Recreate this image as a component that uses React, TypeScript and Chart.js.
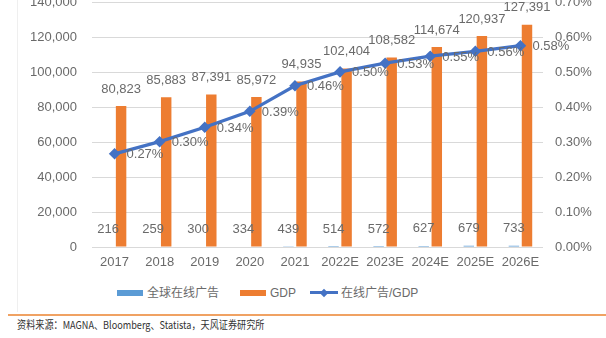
import React, { useEffect, useRef } from "react";
import { Chart, registerables } from "chart.js";

Chart.register(...registerables);

const categories = ["2017", "2018", "2019", "2020", "2021", "2022E", "2023E", "2024E", "2025E", "2026E"];
const onlineAds = [216, 259, 300, 334, 439, 514, 572, 627, 679, 733];
const gdp = [80823, 85883, 87391, 85972, 94935, 102404, 108582, 114674, 120937, 127391];
const ratio = [0.00267, 0.00302, 0.00343, 0.00389, 0.00462, 0.00502, 0.00527, 0.00547, 0.00561, 0.00577];
const ratioLabels = ["0.27%", "0.30%", "0.34%", "0.39%", "0.46%", "0.50%", "0.53%", "0.55%", "0.56%", "0.58%"];
const seriesNames = ["全球在线广告", "GDP", "在线广告/GDP"];
const sourceText = "资料来源：MAGNA、Bloomberg、Statista，天风证券研究所";

const BLUE = "#5B9BD5";
const ORANGE = "#ED7D31";
const LINE = "#4472C4";
const TEXT = "#6A6A6A";
const FONT = '"Liberation Sans", Arial, sans-serif';

const labelPlugin = {
  id: "valueLabels",
  afterDatasetsDraw(chart: any) {
    const ctx = chart.ctx;
    ctx.save();
    ctx.font = `13px ${FONT}`;
    ctx.fillStyle = TEXT;
    ctx.textAlign = "center";
    ctx.textBaseline = "middle";
    [0, 1].forEach((di) => {
      const meta = chart.getDatasetMeta(di);
      meta.data.forEach((el: any, i: number) => {
        const v = chart.data.datasets[di].data[i] as number;
        ctx.fillText(v.toLocaleString("en-US"), el.x, el.y - 17);
      });
    });
    const lm = chart.getDatasetMeta(2);
    ctx.textAlign = "left";
    lm.data.forEach((el: any, i: number) => {
      ctx.fillText(ratioLabels[i], el.x + 12, el.y + 1);
    });
    ctx.restore();
  },
};

export default function App() {
  const ref = useRef<HTMLCanvasElement | null>(null);

  useEffect(() => {
    if (!ref.current) return;
    const chart = new Chart(ref.current, {
      type: "bar",
      data: {
        labels: categories,
        datasets: [
          {
            type: "bar",
            label: seriesNames[0],
            data: onlineAds,
            backgroundColor: BLUE,
            yAxisID: "y",
            order: 1,
            categoryPercentage: 0.58,
            barPercentage: 0.8,
          },
          {
            type: "bar",
            label: seriesNames[1],
            data: gdp,
            backgroundColor: ORANGE,
            yAxisID: "y",
            order: 1,
            categoryPercentage: 0.58,
            barPercentage: 0.8,
          },
          {
            type: "line",
            label: seriesNames[2],
            data: ratio,
            borderColor: LINE,
            backgroundColor: LINE,
            borderWidth: 3.2,
            pointStyle: "rectRot",
            pointRadius: 3.5,
            pointBackgroundColor: LINE,
            pointBorderColor: LINE,
            yAxisID: "y1",
            order: 0,
            tension: 0,
          } as any,
        ],
      },
      options: {
        responsive: false,
        maintainAspectRatio: false,
        animation: false,
        layout: { padding: { top: 19, left: 0, right: 0, bottom: 0 } },
        plugins: {
          legend: { display: false },
          tooltip: { enabled: false },
        },
        scales: {
          x: {
            grid: { display: false, drawTicks: false },
            border: { display: false },
            ticks: { color: TEXT, font: { family: FONT, size: 13 }, padding: 8, maxRotation: 0 },
            afterFit: (s: any) => {
              s.height = 23;
            },
          },
          y: {
            position: "left",
            min: 0,
            max: 140000,
            ticks: {
              stepSize: 20000,
              color: TEXT,
              font: { family: FONT, size: 13 },
              padding: 15,
              callback: (v: any) => Number(v).toLocaleString("en-US"),
            },
            grid: { color: "#D9D9D9", lineWidth: 1, drawTicks: false },
            border: { display: false },
            afterFit: (s: any) => {
              s.width = 92;
            },
          },
          y1: {
            position: "right",
            min: 0,
            max: 0.007,
            ticks: {
              stepSize: 0.001,
              color: TEXT,
              font: { family: FONT, size: 13 },
              padding: 12,
              callback: (v: any) => (Number(v) * 100).toFixed(2) + "%",
            },
            grid: { display: false, drawTicks: false },
            border: { display: false },
            afterFit: (s: any) => {
              s.width = 63;
            },
          },
        },
      },
      plugins: [labelPlugin],
    });
    return () => chart.destroy();
  }, []);

  const legendText: React.CSSProperties = {
    position: "absolute",
    top: 285,
    fontSize: 12,
    lineHeight: "16px",
    color: TEXT,
    fontFamily: '"Liberation Sans", "Noto Sans CJK SC", sans-serif',
    whiteSpace: "nowrap",
  };

  return (
    <div style={{ position: "fixed", left: 0, top: 0, width: 606, height: 338, overflow: "hidden", background: "#fff" }}>
      <div style={{ position: "absolute", left: 17, top: 0, width: 1, height: 312, background: "#EFEFEF" }} />
      <canvas ref={ref} width={606} height={290} style={{ position: "absolute", left: 0, top: -20, width: 606, height: 290 }} />
      <div style={{ position: "absolute", left: 117, top: 290, width: 26, height: 6, background: BLUE }} />
      <span style={{ ...legendText, left: 147 }}>{seriesNames[0]}</span>
      <div style={{ position: "absolute", left: 240, top: 290, width: 26, height: 6, background: ORANGE }} />
      <span style={{ ...legendText, left: 270 }}>{seriesNames[1]}</span>
      <div style={{ position: "absolute", left: 310, top: 291, width: 28, height: 3, background: LINE }} />
      <div style={{ position: "absolute", left: 321, top: 289.5, width: 6, height: 6, background: LINE, transform: "rotate(45deg)" }} />
      <span style={{ ...legendText, left: 341 }}>{seriesNames[2]}</span>
      <div style={{ position: "absolute", left: 8, top: 314, width: 598, height: 1.5, background: "#F0A263" }} />
      <div
        style={{
          position: "absolute",
          left: 17,
          top: 316,
          fontSize: 11,
          lineHeight: "16px",
          color: "#333",
          fontFamily: '"Noto Sans CJK SC", sans-serif',
          whiteSpace: "nowrap",
          transform: "scaleX(0.83)",
          transformOrigin: "left center",
        }}
      >
        {sourceText}
      </div>
    </div>
  );
}
